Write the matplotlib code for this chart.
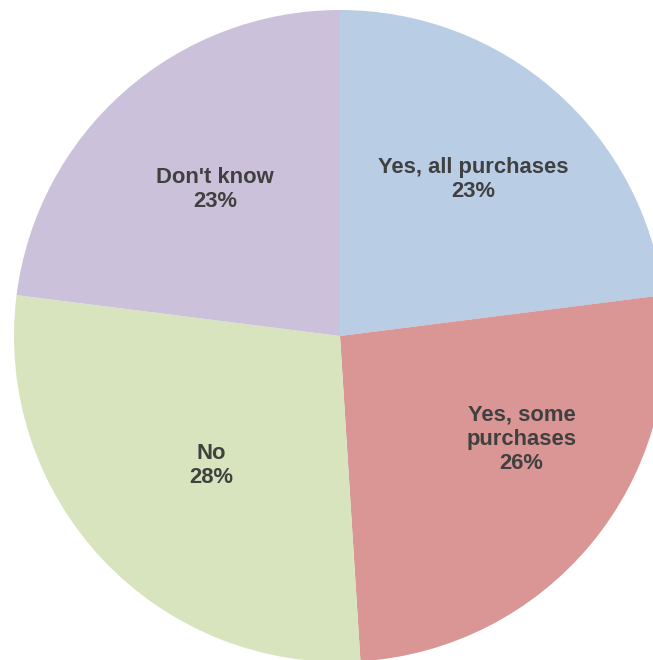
import matplotlib

matplotlib.use("Agg")

import numpy as np
import matplotlib.pyplot as plt

# data
categories = ["Yes, all purchases", "Yes, some\npurchases", "No", "Don't know"]
shares = [23, 26, 28, 23]
colors = ["#B9CDE5", "#D99694", "#D7E4BD", "#CCC1DA"]

# label placement (fraction of radius, angle nudge in degrees)
label_radius = [0.63, 0.64, 0.56, 0.59]
label_nudge = [1.0, 10.0, 2.0, -1.0]

W, H = 653, 660
CX, CY, R = 340, 660 - 336, 326

fig = plt.figure(figsize=(W / 100, H / 100), dpi=100)
ax = fig.add_axes([0, 0, 1, 1])

wedges, _ = ax.pie(
    shares,
    colors=colors,
    startangle=90,
    counterclock=False,
    center=(CX, CY),
    radius=R,
    wedgeprops=dict(linewidth=0),
)
ax.set_xlim(0, W)
ax.set_ylim(0, H)
ax.set_aspect("auto")
ax.axis("off")

for w, name, val, rf, nud in zip(wedges, categories, shares, label_radius, label_nudge):
    mid = np.deg2rad((w.theta1 + w.theta2) / 2 + nud)
    x = CX + rf * R * np.cos(mid)
    y = CY + rf * R * np.sin(mid)
    ax.text(
        x, y, f"{name}\n{val}%",
        ha="center", va="center",
        fontsize=15.8, fontweight="bold", color="#404040",
        family="Liberation Sans", linespacing=1.2,
    )

fig.savefig("out.png", dpi=100, facecolor="white")
